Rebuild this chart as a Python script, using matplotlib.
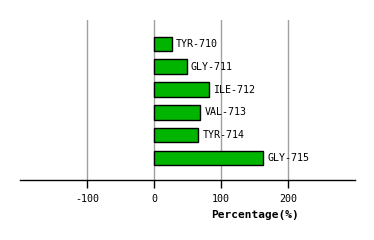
import matplotlib
matplotlib.use("Agg")
import matplotlib.pyplot as plt

residues = ["TYR-710", "GLY-711", "ILE-712", "VAL-713", "TYR-714", "GLY-715"]
values = [27, 49, 82, 69, 66, 163]
xticks = [-100, 0, 100, 200]
xlabel = "Percentage(%)"

fig = plt.figure(figsize=(3.74, 2.4), dpi=100)
ax = fig.add_axes([20/374, 60/240, 335/374, 160/240])
ypos = list(range(len(residues)))
ax.barh(ypos, values, height=0.64, color="#00b400", edgecolor="black", linewidth=1, zorder=3)
for y, v, name in zip(ypos, values, residues):
    ax.annotate(name, (v, y), xytext=(3, 0), textcoords="offset points", va="center", ha="left",
                fontsize=7.2, family="DejaVu Sans Mono", zorder=4)
ax.set_xlim(-200, 300)
ax.set_ylim(5.97, -1.05)
ax.set_xticks(xticks)
ax.set_xticklabels([str(t) for t in xticks], family="DejaVu Sans Mono", fontsize=7.2)
ax.set_yticks([])
for s in ["top", "left", "right"]:
    ax.spines[s].set_visible(False)
ax.spines["bottom"].set_linewidth(1)
ax.tick_params(axis="x", direction="out", length=6, width=1, pad=4)
ax.grid(axis="x", color="#a0a0a0", linewidth=1, zorder=0)
fig.text(255/374, 1 - 215/240, xlabel, ha="center", va="center", fontsize=8, fontweight="bold",
         family="DejaVu Sans Mono")
fig.savefig("out.png", dpi=100)
